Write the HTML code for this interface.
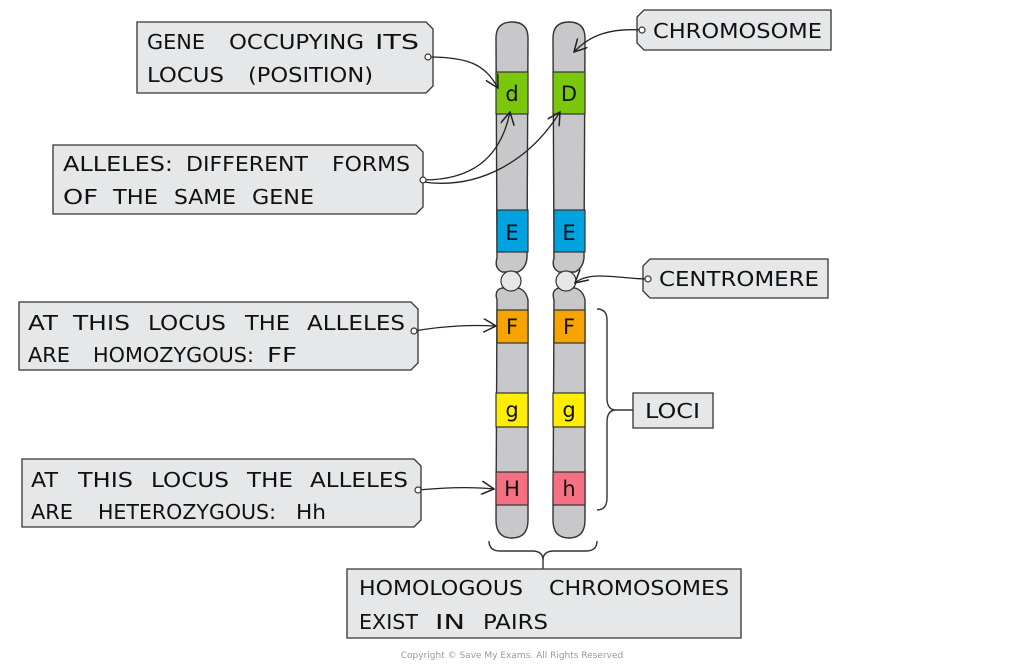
<!DOCTYPE html>
<html><head><meta charset="utf-8"><style>
body{margin:0;background:#fff;width:1024px;height:666px;overflow:hidden}
svg text{font-family:"DejaVu Sans","Liberation Sans",sans-serif;fill:#111}
</style></head><body>
<svg width="1024" height="666" viewBox="0 0 1024 666" xmlns="http://www.w3.org/2000/svg">
<defs>
<marker id="a" viewBox="0 0 12 12" refX="11" refY="6" markerWidth="14" markerHeight="14" orient="auto" markerUnits="userSpaceOnUse"><path d="M0,0 L11,6 L0,12" fill="none" stroke="#222" stroke-width="1.3"/></marker>
</defs>
<g fill="#e6e7e8" stroke="#333" stroke-width="1.3">
<path d="M137,22 H426 L433,29 V86 L426,93 H137 Z"/>
<path d="M644,10 H831 V50 H644 L637,43 V17 Z"/>
<path d="M53,145 H416 L423,152 V207 L416,214 H53 Z"/>
<path d="M650,259 H828 V298 H650 L643,291 V266 Z"/>
<path d="M19,302 H411 L418,309 V363 L411,370 H19 Z"/>
<path d="M633,393 H713 V428 H633 Z"/>
<path d="M22,459 H414 L421,466 V520 L414,527 H22 Z"/>
<path d="M347,569 H741 V638 H347 Z"/>
</g>
<g font-size="20" lengthAdjust="spacingAndGlyphs">
<text x="147" y="49" textLength="58" lengthAdjust="spacingAndGlyphs">GENE</text>
<text x="229" y="49" textLength="135" lengthAdjust="spacingAndGlyphs">OCCUPYING</text>
<text x="375" y="49" textLength="44" lengthAdjust="spacingAndGlyphs">ITS</text>
<text x="147" y="82" textLength="77" lengthAdjust="spacingAndGlyphs">LOCUS</text>
<text x="248" y="82" textLength="125" lengthAdjust="spacingAndGlyphs">(POSITION)</text>
<text x="653" y="38" textLength="169" lengthAdjust="spacingAndGlyphs">CHROMOSOME</text>
<text x="63" y="171" textLength="110" lengthAdjust="spacingAndGlyphs">ALLELES:</text>
<text x="186" y="171" textLength="122" lengthAdjust="spacingAndGlyphs">DIFFERENT</text>
<text x="332" y="171" textLength="78" lengthAdjust="spacingAndGlyphs">FORMS</text>
<text x="63" y="204" textLength="35" lengthAdjust="spacingAndGlyphs">OF</text>
<text x="113" y="204" textLength="45" lengthAdjust="spacingAndGlyphs">THE</text>
<text x="174" y="204" textLength="62" lengthAdjust="spacingAndGlyphs">SAME</text>
<text x="252" y="204" textLength="62" lengthAdjust="spacingAndGlyphs">GENE</text>
<text x="659" y="286" textLength="160" lengthAdjust="spacingAndGlyphs">CENTROMERE</text>
<text x="28" y="330" textLength="30" lengthAdjust="spacingAndGlyphs">AT</text>
<text x="73" y="330" textLength="57" lengthAdjust="spacingAndGlyphs">THIS</text>
<text x="148" y="330" textLength="78" lengthAdjust="spacingAndGlyphs">LOCUS</text>
<text x="245" y="330" textLength="45" lengthAdjust="spacingAndGlyphs">THE</text>
<text x="307" y="330" textLength="98" lengthAdjust="spacingAndGlyphs">ALLELES</text>
<text x="28" y="362" textLength="42" lengthAdjust="spacingAndGlyphs">ARE</text>
<text x="93" y="362" textLength="161" lengthAdjust="spacingAndGlyphs">HOMOZYGOUS:</text>
<text x="267" y="362" textLength="30" lengthAdjust="spacingAndGlyphs">FF</text>
<text x="645" y="418" textLength="55" lengthAdjust="spacingAndGlyphs">LOCI</text>
<text x="31" y="487" textLength="27" lengthAdjust="spacingAndGlyphs">AT</text>
<text x="78" y="487" textLength="55" lengthAdjust="spacingAndGlyphs">THIS</text>
<text x="151" y="487" textLength="78" lengthAdjust="spacingAndGlyphs">LOCUS</text>
<text x="247" y="487" textLength="46" lengthAdjust="spacingAndGlyphs">THE</text>
<text x="310" y="487" textLength="98" lengthAdjust="spacingAndGlyphs">ALLELES</text>
<text x="31" y="519" textLength="42" lengthAdjust="spacingAndGlyphs">ARE</text>
<text x="98" y="519" textLength="178" lengthAdjust="spacingAndGlyphs">HETEROZYGOUS:</text>
<text x="296" y="519" textLength="30" lengthAdjust="spacingAndGlyphs">Hh</text>
<text x="359" y="595" textLength="164" lengthAdjust="spacingAndGlyphs">HOMOLOGOUS</text>
<text x="549" y="595" textLength="180" lengthAdjust="spacingAndGlyphs">CHROMOSOMES</text>
<text x="359" y="629" textLength="59" lengthAdjust="spacingAndGlyphs">EXIST</text>
<text x="435" y="629" textLength="30" lengthAdjust="spacingAndGlyphs">IN</text>
<text x="483" y="629" textLength="65" lengthAdjust="spacingAndGlyphs">PAIRS</text>
</g>
<g stroke="#333" stroke-width="1.4" fill="#c8c8ca">
<path d="M496,38 Q496,22 512,22 Q528,22 528,38 L527,258 Q526,268 518,272 L502,272 Q494,268 497,258 Z"/>
<path d="M497,300 Q494,290 502,288 L518,288 Q526,290 528,300 L528,520 Q528,538 512,538 Q496,538 496,520 Z"/>
<path d="M553,38 Q553,22 569,22 Q585,22 585,38 L584,258 Q583,268 575,272 L559,272 Q551,268 554,258 Z"/>
<path d="M554,300 Q551,290 559,288 L575,288 Q583,290 585,300 L585,520 Q585,538 569,538 Q553,538 553,520 Z"/>
</g>
<g stroke="#333" stroke-width="1.2">
<rect x="496" y="72" width="32" height="42" fill="#7ac70c"/>
<rect x="553" y="72" width="32" height="42" fill="#7ac70c"/>
<rect x="497" y="210" width="31" height="42" fill="#00a3e0"/>
<rect x="554" y="210" width="31" height="42" fill="#00a3e0"/>
<rect x="497" y="310" width="31" height="33" fill="#f7a400"/>
<rect x="554" y="310" width="31" height="33" fill="#f7a400"/>
<rect x="496" y="393" width="32" height="34" fill="#ffee00"/>
<rect x="553" y="393" width="32" height="34" fill="#ffee00"/>
<rect x="496" y="472" width="32" height="33" fill="#f47082"/>
<rect x="553" y="472" width="32" height="33" fill="#f47082"/>
<circle cx="511" cy="281" r="10" fill="#e6e7e8"/>
<circle cx="566" cy="281" r="10" fill="#e6e7e8"/>
</g>
<g font-size="21" text-anchor="middle">
<text x="512" y="101">d</text><text x="569" y="101">D</text>
<text x="512" y="240">E</text><text x="569" y="240">E</text>
<text x="512" y="334">F</text><text x="569" y="334">F</text>
<text x="512" y="417">g</text><text x="569" y="417">g</text>
<text x="512" y="496">H</text><text x="569" y="496">h</text>
</g>
<g fill="none" stroke="#222" stroke-width="1.3" marker-end="url(#a)">
<path d="M428,57 C470,57 485,65 498,88"/>
<path d="M423,180 C470,180 500,160 510,112"/>
<path d="M423,182 C480,190 530,160 560,112"/>
<path d="M642,30 C610,28 590,35 574,52"/>
<path d="M648,279 C620,279 590,270 575,283"/>
<path d="M414,331 C450,325 475,325 496,326"/>
<path d="M418,490 C450,487 475,487 494,489"/>
</g>
<g fill="#fff" stroke="#333" stroke-width="1.2">
<circle cx="428" cy="57" r="3"/><circle cx="423" cy="180" r="3"/>
<circle cx="642" cy="30" r="3"/><circle cx="648" cy="279" r="3"/>
<circle cx="414" cy="331" r="3"/><circle cx="418" cy="490" r="3"/>
</g>
<g fill="none" stroke="#333" stroke-width="1.4">
<path d="M597,309 Q607,309 607,320 L607,398 Q607,410 616,410 L633,410 M616,410 Q607,410 607,422 L607,498 Q607,510 597,510"/>
<path d="M489,541 Q489,551 500,551 L532,551 Q543,551 543,560 L543,569 M543,560 Q543,551 554,551 L586,551 Q597,551 597,541"/>
</g>
<text x="512" y="658" font-size="9" text-anchor="middle" style="fill:#999">Copyright © Save My Exams. All Rights Reserved</text>
</svg>
</body></html>
